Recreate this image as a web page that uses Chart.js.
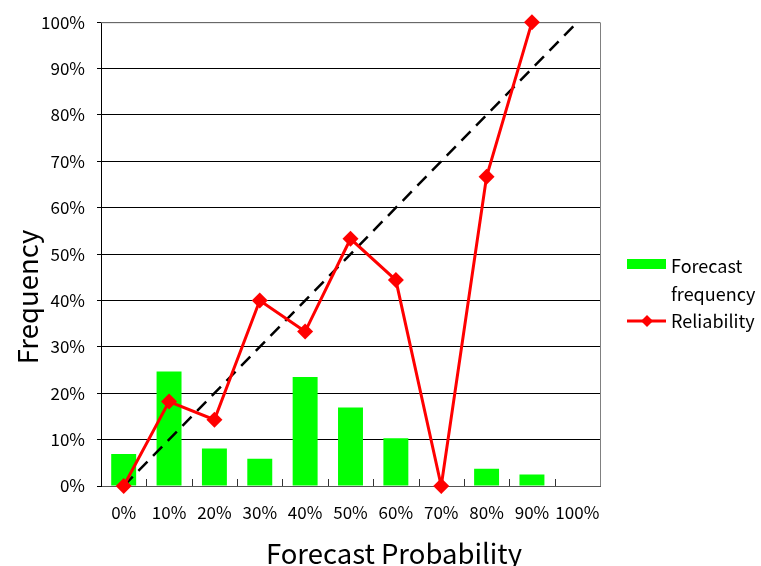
<!DOCTYPE html>
<html>
<head>
<meta charset="utf-8">
<script src="https://cdn.jsdelivr.net/npm/chart.js@4.4.1/dist/chart.umd.min.js"></script>
<style>
  html, body { margin: 0; padding: 0; background: #fff; }
  #wrap { width: 761px; height: 566px; }
</style>
</head>
<body>
<div id="wrap"><canvas id="reliabilityChart" width="761" height="566"></canvas></div>
<script>
// 予報確率の階級
const categories = ['0%', '10%', '20%', '30%', '40%', '50%', '60%', '70%', '80%', '90%', '100%'];
// 予報頻度 (%)
const forecastFrequency = [6.9, 24.7, 8.1, 5.9, 23.5, 16.9, 10.3, 0, 3.7, 2.5, 0];
// 信頼度 (%)
const reliability = [0, 18.2, 14.3, 40.0, 33.3, 53.3, 44.4, 0, 66.7, 100, null];
// 完全信頼度の対角線
const diagonal = [{ x: '0%', y: 0 }, { x: '100%', y: 100 }];
const yTicks = [0, 10, 20, 30, 40, 50, 60, 70, 80, 90, 100];

const FONT = "'Noto Sans CJK JP', 'DejaVu Sans', sans-serif";

// 凡例と軸タイトル (2行ラベル・位置調整のため自前で描画)
const legendPlugin = {
    id: 'customLegend',
    afterDraw(chart) {
        const ctx = chart.ctx;
        ctx.save();
        ctx.font = '18px ' + FONT;
        ctx.textBaseline = 'middle';
        ctx.textAlign = 'left';

        ctx.fillStyle = '#00ff00';
        ctx.fillRect(627, 259, 39, 10);
        ctx.fillStyle = '#000';
        ctx.fillText('Forecast', 671, 266);
        ctx.fillText('frequency', 671, 294);

        ctx.strokeStyle = '#ff0000';
        ctx.lineWidth = 3;
        ctx.beginPath();
        ctx.moveTo(627, 321);
        ctx.lineTo(666, 321);
        ctx.stroke();
        ctx.fillStyle = '#ff0000';
        ctx.beginPath();
        ctx.moveTo(647, 315);
        ctx.lineTo(653, 321);
        ctx.lineTo(647, 327);
        ctx.lineTo(641, 321);
        ctx.closePath();
        ctx.fill();
        ctx.fillStyle = '#000';
        ctx.fillText('Reliability', 671, 321);

        // 軸タイトル
        ctx.font = '27.5px ' + FONT;
        ctx.textAlign = 'center';
        ctx.textBaseline = 'alphabetic';
        ctx.fillText('Forecast Probability', 394, 564);
        ctx.translate(38, 297);
        ctx.rotate(-Math.PI / 2);
        ctx.fillText('Frequency', 0, 0);
        ctx.restore();
    }
};

// 枠線と x 軸の内向き目盛り
const framePlugin = {
    id: 'frame',
    beforeDatasetsDraw(chart) {
        const { ctx, chartArea } = chart;
        const xs = chart.scales.x;
        ctx.save();
        ctx.strokeStyle = '#808080';
        ctx.lineWidth = 1;
        ctx.beginPath();
        ctx.moveTo(chartArea.left, chartArea.top + 0.5);
        ctx.lineTo(chartArea.right + 0.5, chartArea.top + 0.5);
        ctx.lineTo(chartArea.right + 0.5, chartArea.bottom);
        ctx.stroke();

        ctx.strokeStyle = '#333';
        ctx.beginPath();
        for (let i = 0; i < categories.length - 1; i++) {
            const bx = Math.round((xs.getPixelForValue(i) + xs.getPixelForValue(i + 1)) / 2) + 0.5;
            ctx.moveTo(bx, chartArea.bottom);
            ctx.lineTo(bx, chartArea.bottom - 7);
        }
        ctx.stroke();
        ctx.restore();
    }
};

const ctx = document.getElementById('reliabilityChart').getContext('2d');
new Chart(ctx, {
    data: {
        labels: categories,
        datasets: [
            {
                type: 'line',
                label: 'Reliability',
                data: reliability,
                borderColor: '#ff0000',
                backgroundColor: '#ff0000',
                borderWidth: 3,
                pointStyle: 'rectRot',
                pointRadius: 8,
                pointHoverRadius: 8,
                pointBorderWidth: 0,
                tension: 0,
                spanGaps: false,
                clip: false,
                order: 1
            },
            {
                type: 'line',
                label: 'diagonal',
                data: diagonal,
                borderColor: '#000',
                borderWidth: 2.5,
                borderDash: [13, 8],
                pointRadius: 0,
                tension: 0,
                order: 2
            },
            {
                type: 'bar',
                label: 'Forecast frequency',
                data: forecastFrequency,
                backgroundColor: '#00ff00',
                borderWidth: 0,
                barPercentage: 0.55,
                categoryPercentage: 1.0,
                order: 3
            }
        ]
    },
    options: {
        responsive: false,
        animation: false,
        layout: { padding: { top: 20, right: 161, left: 0, bottom: 0 } },
        plugins: {
            legend: { display: false },
            tooltip: { enabled: false }
        },
        scales: {
            x: {
                type: 'category',
                offset: true,
                grid: { display: false, drawTicks: false },
                border: { display: true, color: '#555', width: 1 },
                ticks: {
                    color: '#000',
                    font: { family: FONT, size: 17 },
                    padding: 16,
                    maxRotation: 0,
                    autoSkip: false
                },
                afterFit(scale) { scale.height = 80; }
            },
            y: {
                min: 0,
                max: 100,
                afterBuildTicks(scale) { scale.ticks = yTicks.map(v => ({ value: v })); },
                grid: {
                    color: '#000',
                    lineWidth: 1,
                    drawTicks: true,
                    tickLength: 4
                },
                border: { display: true, color: '#000', width: 1 },
                ticks: {
                    color: '#000',
                    font: { family: FONT, size: 17 },
                    padding: 12,
                    callback: v => v + '%'
                },
                afterFit(scale) { scale.width = 101; }
            }
        }
    },
    plugins: [framePlugin, legendPlugin]
});
</script>
</body>
</html>
